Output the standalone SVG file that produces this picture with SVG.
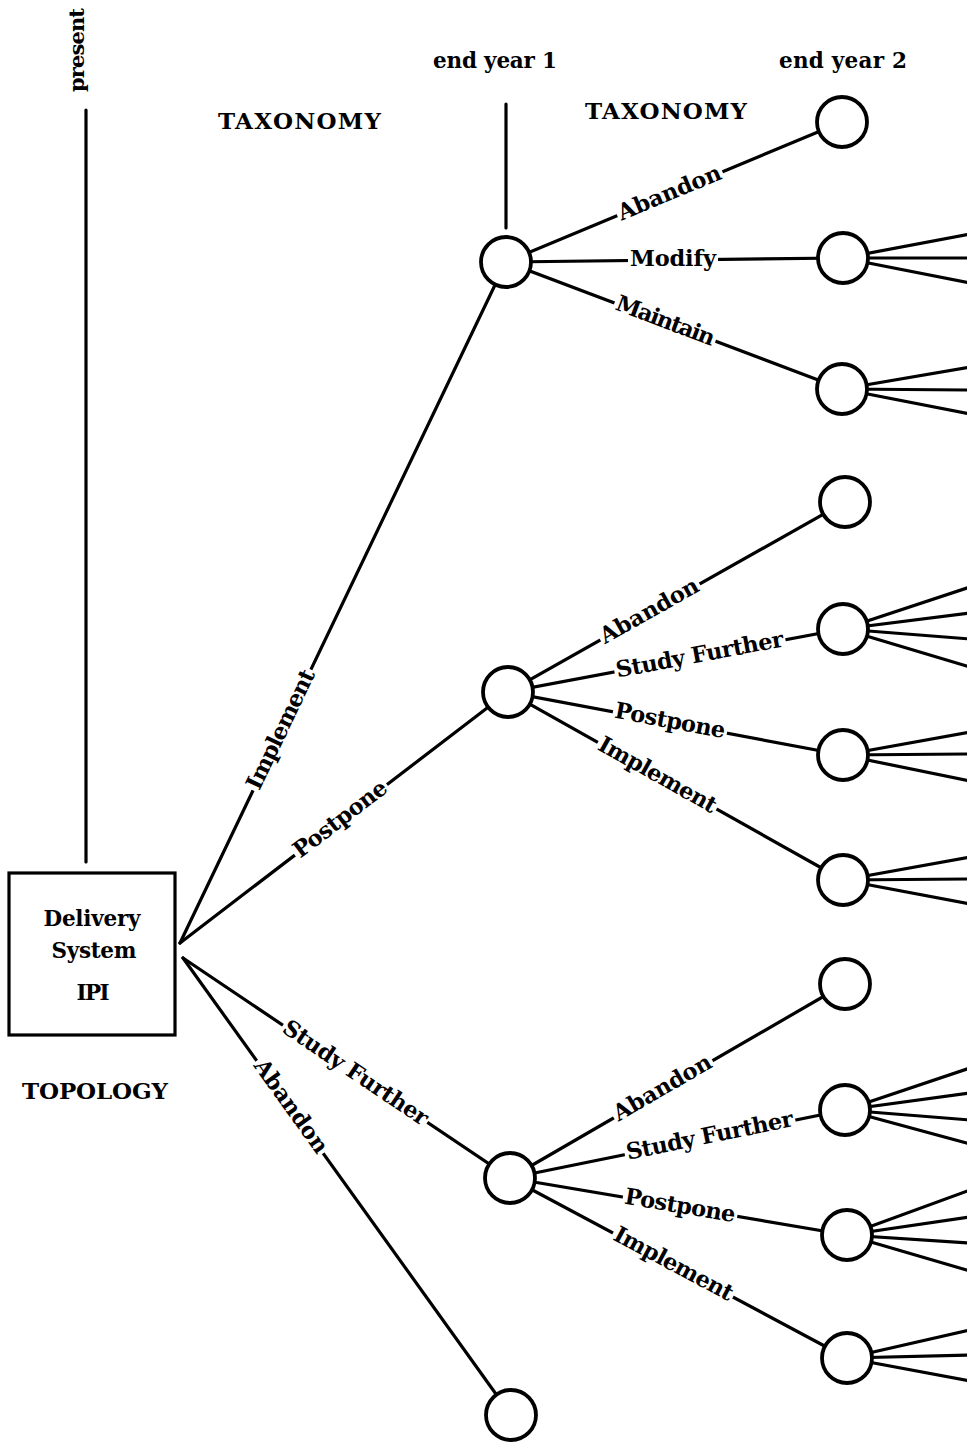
<svg xmlns="http://www.w3.org/2000/svg" width="967" height="1445" viewBox="0 0 967 1445">
<defs>
<style>
.ln{stroke:#000;stroke-width:3.2;fill:none;stroke-linecap:round}
.nd{stroke:#000;stroke-width:3.8;fill:#fff}
.bx{stroke:#000;stroke-width:3.2;fill:#fff}
.t{font-family:"DejaVu Serif","Liberation Serif",serif;font-weight:bold;fill:#000}
.lb{font-family:"DejaVu Serif","Liberation Serif",serif;font-weight:bold;font-size:22.5px;fill:#000;text-anchor:middle}
.bg{fill:#fff}
</style>
</defs>
<rect width="967" height="1445" fill="#fff"/>

<g id="headers">
<text class="t" font-size="21" transform="translate(84,50) rotate(-90)" text-anchor="middle" textLength="84">present</text>
<line class="ln" x1="86" y1="110" x2="86" y2="862"/>
<text class="t" font-size="23" x="218" y="129" textLength="163">TAXONOMY</text>
<text class="t" font-size="21.5" x="433" y="68" textLength="124">end year 1</text>
<line class="ln" x1="506" y1="104" x2="506" y2="228"/>
<text class="t" font-size="23" x="585" y="119" textLength="162">TAXONOMY</text>
<text class="t" font-size="21.5" x="779" y="68" textLength="128">end year 2</text>
<text class="t" font-size="23" x="22" y="1099" textLength="146">TOPOLOGY</text>
</g>

<g id="connectors">
<line class="ln" x1="180" y1="943" x2="506" y2="262"/>
<line class="ln" x1="180" y1="943" x2="508" y2="692"/>
<line class="ln" x1="183" y1="958" x2="510" y2="1178"/>
<line class="ln" x1="183" y1="958" x2="511" y2="1415"/>

<line class="ln" x1="506" y1="262" x2="842" y2="122"/>
<line class="ln" x1="506" y1="262" x2="843" y2="258"/>
<line class="ln" x1="506" y1="262" x2="842" y2="389"/>

<line class="ln" x1="508" y1="692" x2="845" y2="502"/>
<line class="ln" x1="508" y1="692" x2="843" y2="629"/>
<line class="ln" x1="508" y1="692" x2="843" y2="755"/>
<line class="ln" x1="508" y1="692" x2="843" y2="880"/>

<line class="ln" x1="510" y1="1178" x2="845" y2="984"/>
<line class="ln" x1="510" y1="1178" x2="845" y2="1110"/>
<line class="ln" x1="510" y1="1178" x2="847" y2="1235"/>
<line class="ln" x1="510" y1="1178" x2="847" y2="1358"/>

<path class="ln" d="M843 258L970 234M843 258L970 258M843 258L970 283"/>
<path class="ln" d="M842 389L970 367M842 389L970 390M842 389L970 414"/>
<path class="ln" d="M843 629L970 587M843 629L970 613M843 629L970 639M843 629L970 667"/>
<path class="ln" d="M843 755L970 732M843 755L970 754M843 755L970 781"/>
<path class="ln" d="M843 880L970 857M843 880L970 879M843 880L970 904"/>
<path class="ln" d="M845 1110L970 1068M845 1110L970 1093M845 1110L970 1120M845 1110L970 1144"/>
<path class="ln" d="M847 1235L970 1190M847 1235L970 1217M847 1235L970 1243M847 1235L970 1271"/>
<path class="ln" d="M847 1358L970 1330M847 1358L970 1355M847 1358L970 1381"/>
</g>

<g id="labels">
<g transform="translate(282,730) rotate(-64.4)"><rect class="bg" x="-67" y="-5" width="134" height="10"/><text class="lb" y="6" textLength="130">Implement</text></g>
<g transform="translate(341,820) rotate(-37.4)"><rect class="bg" x="-58" y="-5" width="116" height="10"/><text class="lb" y="6" textLength="112">Postpone</text></g>
<g transform="translate(355,1074) rotate(33.9)"><rect class="bg" x="-87" y="-5" width="174" height="10"/><text class="lb" y="6" textLength="170">Study Further</text></g>
<g transform="translate(290,1107) rotate(54.3)"><rect class="bg" x="-57" y="-5" width="114" height="10"/><text class="lb" y="6" textLength="110">Abandon</text></g>

<g transform="translate(670,194) rotate(-22.6)"><rect class="bg" x="-57" y="-5" width="114" height="10"/><text class="lb" y="6" textLength="110">Abandon</text></g>
<g transform="translate(673,260)"><rect class="bg" x="-45" y="-5" width="90" height="10"/><text class="lb" y="6" textLength="86">Modify</text></g>
<g transform="translate(665,322) rotate(20.7)"><rect class="bg" x="-54" y="-5" width="108" height="10"/><text class="lb" y="6" textLength="104">Maintain</text></g>

<g transform="translate(650,612) rotate(-29.4)"><rect class="bg" x="-57" y="-5" width="114" height="10"/><text class="lb" y="6" textLength="110">Abandon</text></g>
<g transform="translate(700,656) rotate(-10.65)"><rect class="bg" x="-87" y="-5" width="174" height="10"/><text class="lb" y="6" textLength="170">Study Further</text></g>
<g transform="translate(670,722) rotate(10.65)"><rect class="bg" x="-58" y="-5" width="116" height="10"/><text class="lb" y="6" textLength="112">Postpone</text></g>
<g transform="translate(657,776) rotate(29.3)"><rect class="bg" x="-68" y="-5" width="136" height="10"/><text class="lb" y="6" textLength="132">Implement</text></g>

<g transform="translate(663,1089) rotate(-30.1)"><rect class="bg" x="-57" y="-5" width="114" height="10"/><text class="lb" y="6" textLength="110">Abandon</text></g>
<g transform="translate(710,1137) rotate(-11.5)"><rect class="bg" x="-87" y="-5" width="174" height="10"/><text class="lb" y="6" textLength="170">Study Further</text></g>
<g transform="translate(680,1207) rotate(9.6)"><rect class="bg" x="-58" y="-5" width="116" height="10"/><text class="lb" y="6" textLength="112">Postpone</text></g>
<g transform="translate(673,1265) rotate(28.1)"><rect class="bg" x="-68" y="-5" width="136" height="10"/><text class="lb" y="6" textLength="132">Implement</text></g>
</g>

<g id="root">
<rect class="bx" x="9" y="873" width="166" height="162"/>
<text class="t" font-size="21.5" x="92" y="926" text-anchor="middle" textLength="97">Delivery</text>
<text class="t" font-size="21.5" x="94" y="958" text-anchor="middle" textLength="85">System</text>
<text class="t" font-size="21.5" x="93" y="1000" text-anchor="middle" textLength="33">IPI</text>
</g>

<g id="n-y1-implement"><circle class="nd" cx="506" cy="262" r="25"/></g>
<g id="n-y1-postpone"><circle class="nd" cx="508" cy="692" r="25"/></g>
<g id="n-y1-study"><circle class="nd" cx="510" cy="1178" r="25"/></g>
<g id="n-y1-abandon"><circle class="nd" cx="511" cy="1415" r="25"/></g>

<g id="n-a-abandon"><circle class="nd" cx="842" cy="122" r="25"/></g>
<g id="n-a-modify"><circle class="nd" cx="843" cy="258" r="25"/></g>
<g id="n-a-maintain"><circle class="nd" cx="842" cy="389" r="25"/></g>

<g id="n-b-abandon"><circle class="nd" cx="845" cy="502" r="25"/></g>
<g id="n-b-study"><circle class="nd" cx="843" cy="629" r="25"/></g>
<g id="n-b-postpone"><circle class="nd" cx="843" cy="755" r="25"/></g>
<g id="n-b-implement"><circle class="nd" cx="843" cy="880" r="25"/></g>

<g id="n-c-abandon"><circle class="nd" cx="845" cy="984" r="25"/></g>
<g id="n-c-study"><circle class="nd" cx="845" cy="1110" r="25"/></g>
<g id="n-c-postpone"><circle class="nd" cx="847" cy="1235" r="25"/></g>
<g id="n-c-implement"><circle class="nd" cx="847" cy="1358" r="25"/></g>
</svg>
